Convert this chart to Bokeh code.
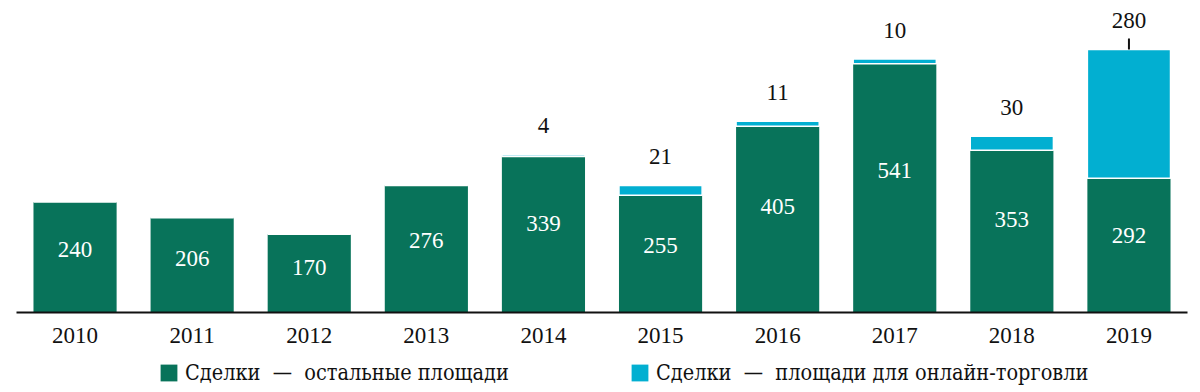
from bokeh.plotting import figure
from bokeh.layouts import column
from bokeh.models import ColumnDataSource, Legend, LegendItem, FactorRange, Range1d
from bokeh.core.properties import value
from bokeh.embed import file_html
from bokeh.resources import INLINE

years = ["2010", "2011", "2012", "2013", "2014", "2015", "2016", "2017", "2018", "2019"]
other = [240, 206, 170, 276, 339, 255, 405, 541, 353, 292]
online = [0, 0, 0, 0, 4, 21, 11, 10, 30, 280]
online_labels = ["", "", "", "", "4", "21", "11", "10", "30", "280"]
legend_labels = ["Сделки\u00a0 —\u00a0 остальные площади",
                 "Сделки\u00a0 —\u00a0 площади для онлайн-торговли"]

GREEN = "#08735a"
BLUE = "#02afd1"
FONT = "Liberation Serif"
LFONT = "DejaVu Serif Condensed"

total = [a + b for a, b in zip(other, online)]
src = ColumnDataSource(dict(
    x=years, other=other, online=online, total=total,
    mid=[v * 0.57 for v in other],
    other_txt=[str(v) for v in other],
    online_txt=online_labels,
))

p = figure(width=1200, height=356, x_range=FactorRange(*years), y_range=Range1d(0, 661),
           output_backend="svg", toolbar_location=None,
           min_border_left=16, min_border_right=13, min_border_top=8, min_border_bottom=44)
p.outline_line_color = None
p.grid.visible = False
p.yaxis.visible = False
p.x_range.range_padding = 0

p.vbar(x="x", top="other", bottom=0, width=0.71, source=src, fill_color=GREEN, line_color=None)
p.vbar(x="x", top="total", bottom="other", width=0.71, source=src, fill_color=BLUE,
       line_color="white", line_width=1.5)

p.text(x="x", y="mid", text="other_txt", source=src, text_color="white",
       text_font=value(FONT), text_font_size="23px", text_align="center", text_baseline="middle")
p.text(x="x", y="total", text="online_txt", source=src, text_color="#111111",
       text_font=value(FONT), text_font_size="23px", text_align="center", text_baseline="middle",
       y_offset=-29)

# short connector tick for the last bar label
p.segment(x0=[years[-1]], y0=[total[-1]], x1=[years[-1]], y1=[total[-1] + 24],
          line_color="#111111", line_width=2)

ax = p.xaxis[0]
ax.axis_line_width = 2
ax.axis_line_color = "#111111"
ax.major_tick_line_color = None
ax.major_tick_out = 0
ax.major_tick_in = 0
ax.minor_tick_line_color = None
ax.minor_tick_out = 0
ax.major_label_text_font = FONT
ax.major_label_text_font_size = "23px"
ax.major_label_text_color = "#111111"
ax.major_label_standoff = 15

# legend strip below the chart
p2 = figure(width=1200, height=36, x_range=Range1d(0, 1), y_range=Range1d(0, 1),
            output_backend="svg", toolbar_location=None,
            x_axis_type=None, y_axis_type=None,
            min_border_left=0, min_border_right=0, min_border_top=0, min_border_bottom=0)
p2.outline_line_color = None
p2.grid.visible = False
r1 = p2.vbar(x=[0.5], top=[0], bottom=[0], width=0.01, fill_color=GREEN, line_color=None)
r2 = p2.vbar(x=[0.5], top=[0], bottom=[0], width=0.01, fill_color=BLUE, line_color=None)

legend = Legend(items=[LegendItem(label=legend_labels[0], renderers=[r1]),
                       LegendItem(label=legend_labels[1], renderers=[r2])],
                orientation="horizontal", location=(142, 7),
                glyph_width=21, glyph_height=21, label_standoff=6, spacing=117,
                label_width=327,
                padding=0, margin=0, border_line_color=None, background_fill_alpha=0,
                label_text_font=LFONT, label_text_font_size="21.5px", label_height=18,
                label_text_color="#111111")
p2.add_layout(legend, "center")

open("out.html", "w").write(file_html(column(p, p2, spacing=0), INLINE))
